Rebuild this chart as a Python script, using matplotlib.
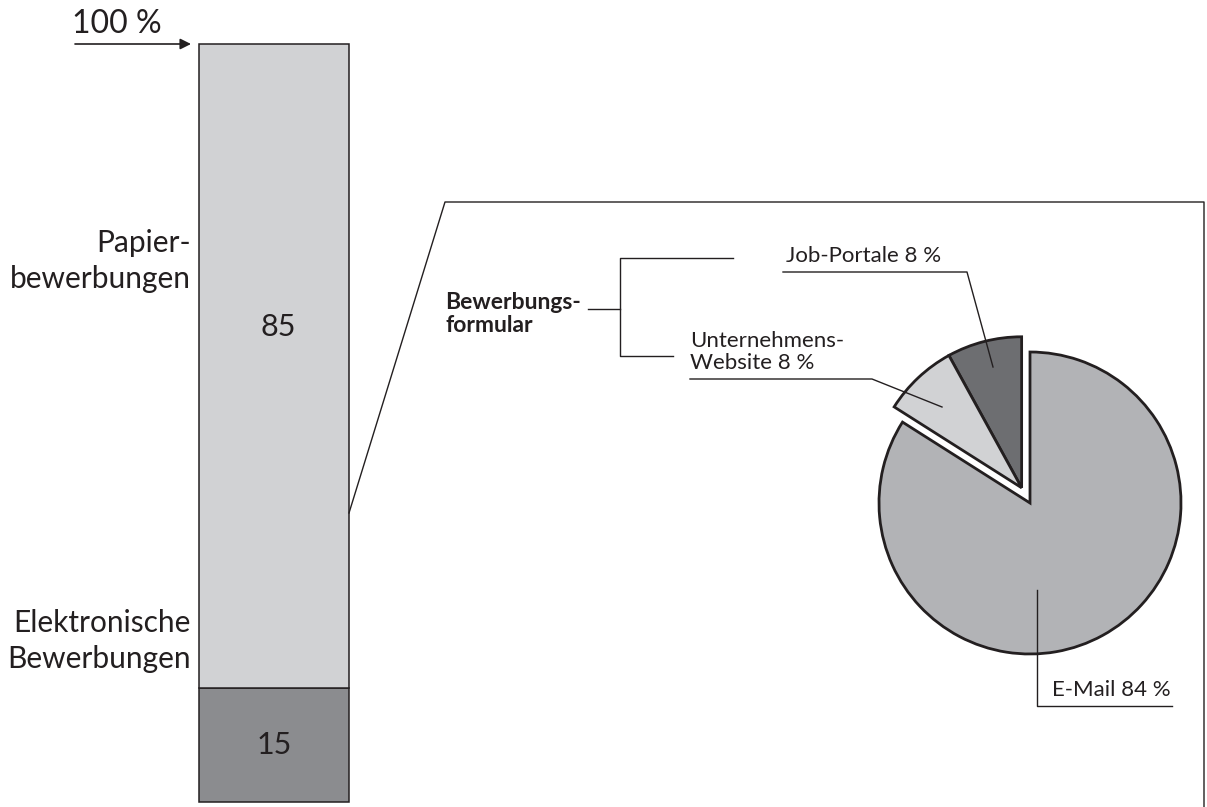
import numpy as np
import matplotlib.pyplot as plt

plt.rcParams['font.family'] = ['Lato', 'DejaVu Sans']

# data
bar_labels = ["Elektronische\nBewerbungen", "Papier-\nbewerbungen"]
bar_values = [15, 85]
bar_colors = ["#8b8c8f", "#d1d2d4"]

pie_labels = ["Job-Portale 8 %", "Unternehmens-\nWebsite 8 %", "E-Mail 84 %"]
pie_values = [8, 8, 84]
pie_colors = ["#6d6e71", "#d1d2d4", "#b2b3b6"]

W, H = 1207, 807
edge = "#231f20"
fig = plt.figure(figsize=(W / 100, H / 100), dpi=100)

# stacked bar
axb = fig.add_axes([199 / W, 5 / H, 150 / W, 758 / H])
bottom = 0
for v, c in zip(bar_values, bar_colors):
    axb.bar([0], [v], bottom=bottom, width=1.0, color=c, edgecolor=edge,
            linewidth=1.1, clip_on=False)
    bottom += v
axb.set_xlim(-0.5, 0.5)
axb.set_ylim(0, 100)
axb.axis("off")
axb.text(0, bar_values[0] / 2, str(bar_values[0]), ha="center", va="center",
         fontsize=22, color=edge)
axb.text(0.03, bar_values[0] + bar_values[1] * 0.56, str(bar_values[1]),
         ha="center", va="center", fontsize=22, color=edge)

# pie
cx, cy, r = 1030, 503, 151
axp = fig.add_axes([(cx - 1.25 * r) / W, (H - cy - 1.25 * r) / H,
                    2.5 * r / W, 2.5 * r / H])
wedges, _ = axp.pie(pie_values, colors=pie_colors, startangle=90,
                    counterclock=True,
                    wedgeprops=dict(edgecolor=edge, linewidth=2.0))
mid = np.deg2rad(90 + (pie_values[0] + pie_values[1]) / 100 * 360 / 2)
shift = 0.115
for w in wedges[:2]:
    w.set_center((shift * np.cos(mid), shift * np.sin(mid)))
axp.set_xlim(-1.25, 1.25)
axp.set_ylim(-1.25, 1.25)
axp.set_aspect("equal")

# overlay for annotations
ax = fig.add_axes([0, 0, 1, 1])
ax.set_xlim(0, W)
ax.set_ylim(H, 0)
ax.axis("off")
ax.patch.set_visible(False)
lw = 1.0

# 100 % arrow
ax.annotate("", xy=(191, 44), xytext=(75, 44),
            arrowprops=dict(arrowstyle="-|>", color=edge, lw=1.2,
                            mutation_scale=16, shrinkA=0, shrinkB=0))
ax.text(72, 33, "100 %", fontsize=23, color=edge, ha="left", va="baseline")

# bar labels
ax.text(191, 261, bar_labels[1], fontsize=21.5, color=edge, ha="right",
        va="center", linespacing=1.35)
ax.text(191, 641, bar_labels[0], fontsize=21.5, color=edge, ha="right",
        va="center", linespacing=1.35)

# zoom box
ax.plot([349, 445, 1204, 1204], [513, 202, 202, H], color=edge, lw=lw)

# bracket
ax.text(445, 314, "Bewerbungs-\nformular", fontsize=16.5, fontweight="bold",
        color=edge, ha="left", va="center", linespacing=1.1)
ax.plot([588, 620], [309, 309], color=edge, lw=lw)
ax.plot([733, 620, 620, 673], [258, 258, 356, 356], color=edge, lw=lw)

# pie labels
ax.text(786, 266, pie_labels[0], fontsize=16, color=edge, ha="left",
        va="bottom")
ax.plot([783, 967, 993], [272, 272, 367], color=edge, lw=lw)
ax.text(690, 373, pie_labels[1], fontsize=16, color=edge, ha="left",
        va="bottom", linespacing=1.15)
ax.plot([690, 872, 942], [379, 379, 407], color=edge, lw=lw)
ax.text(1171, 700, pie_labels[2], fontsize=16, color=edge, ha="right",
        va="bottom")
ax.plot([1037, 1037, 1172], [590, 706, 706], color=edge, lw=lw)

fig.savefig("out.png", dpi=100)
